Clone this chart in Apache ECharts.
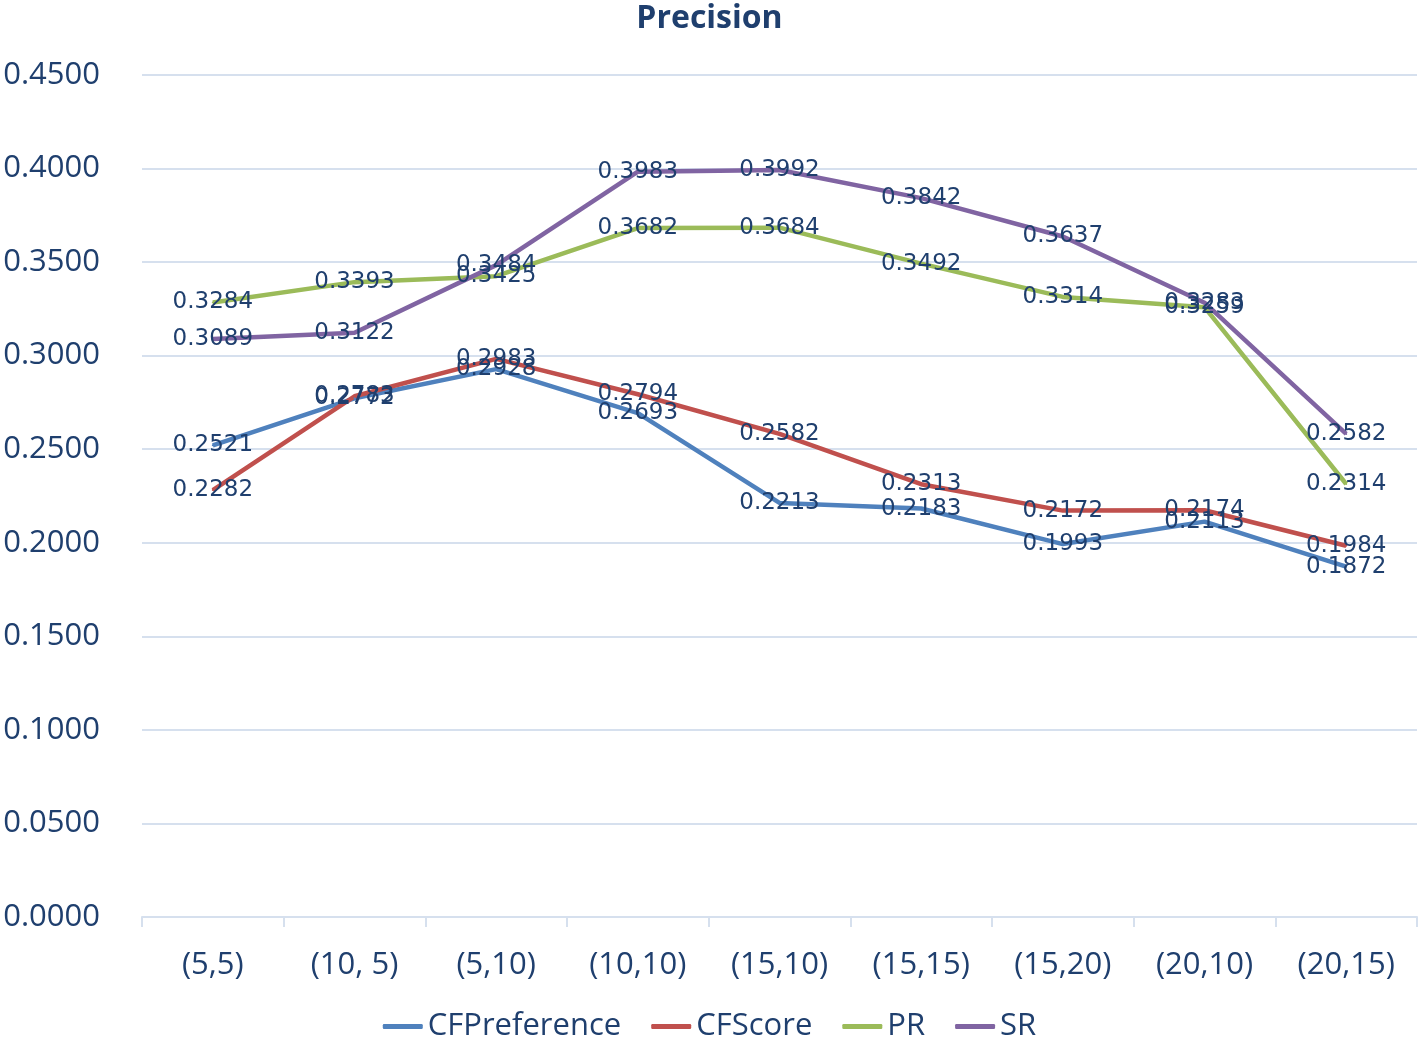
<!DOCTYPE html>
<html><head><meta charset="utf-8">
<script src="https://cdn.jsdelivr.net/npm/echarts@6/dist/echarts.min.js"></script>
<style>html,body{margin:0;padding:0;background:#fff}#c{width:1419px;height:1037px}</style>
</head><body><div id="c"></div>
<script>
const categories = ["(5,5)","(10, 5)","(5,10)","(10,10)","(15,10)","(15,15)","(15,20)","(20,10)","(20,15)"];
const cfPreference = [0.2521,0.2772,0.2928,0.2693,0.2213,0.2183,0.1993,0.2113,0.1872];
const cfScore = [0.2282,0.2783,0.2983,0.2794,0.2582,0.2313,0.2172,0.2174,0.1984];
const pr = [0.3284,0.3393,0.3425,0.3682,0.3684,0.3492,0.3314,0.3259,0.2314];
const sr = [0.3089,0.3122,0.3484,0.3983,0.3992,0.3842,0.3637,0.3283,0.2582];
const seriesNames = ["CFPreference","CFScore","PR","SR"];
const colors = ["#4F81BD","#C0504D","#9BBB59","#8064A2"];
const textColor = "#1F3F6E";
const chart = echarts.init(document.getElementById('c'));
const mk = (name, data, color) => ({
  name, type: 'line', data, symbol: 'circle', symbolSize: 2, showSymbol: true, smooth: false,
  lineStyle: {color, width: 4.5}, itemStyle: {color},
  labelLayout: {hideOverlap: false},
  label: {show: true, position: 'inside', offset: [0, 2], formatter: p => p.value.toFixed(4),
    color: textColor, fontFamily: 'DejaVu Sans', fontSize: 23}
});
chart.setOption({
  animation: false,
  title: {text: 'Precision', left: 'center', top: -2,
    textStyle: {color: textColor, fontFamily: 'Open Sans', fontWeight: 'bold', fontSize: 32}},
  legend: {bottom: -10, itemGap: 30, itemWidth: 40, itemHeight: 5, icon: 'roundRect',
    textStyle: {color: textColor, fontFamily: 'Open Sans', fontSize: 31},
    data: seriesNames},
  grid: {left: 142, right: 2, top: 75, bottom: 120, containLabel: false},
  xAxis: {type: 'category', data: categories, boundaryGap: true,
    axisLine: {lineStyle: {color: '#D6E0EE', width: 2}},
    axisTick: {show: true, length: 10, lineStyle: {color: '#D6E0EE', width: 2}},
    axisLabel: {color: textColor, fontFamily: 'Open Sans', fontSize: 31, margin: 33}},
  yAxis: {type: 'value', min: 0, max: 0.45, interval: 0.05,
    axisLine: {show: false}, axisTick: {show: false},
    splitLine: {lineStyle: {color: '#D6E0EE', width: 2}},
    axisLabel: {color: textColor, fontFamily: 'Open Sans', fontSize: 31, margin: 42,
      formatter: v => v.toFixed(4), align: 'right'}},
  series: [mk(seriesNames[0], cfPreference, colors[0]), mk(seriesNames[1], cfScore, colors[1]),
           mk(seriesNames[2], pr, colors[2]), mk(seriesNames[3], sr, colors[3])]
});
</script></body></html>
